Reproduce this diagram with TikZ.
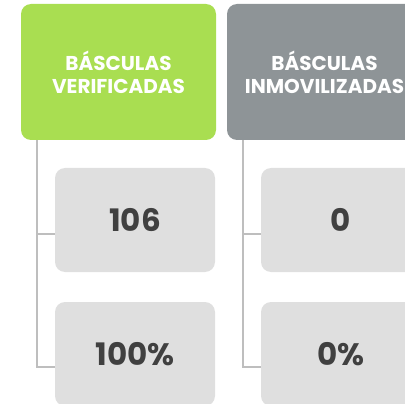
\documentclass[tikz,border=0pt]{standalone}
\usepackage{fontspec}
\setmainfont{Poppins}
\usepackage{tikz}
\usetikzlibrary{positioning, calc}

\definecolor{headgreen}{HTML}{A9DE51}
\definecolor{headgray}{HTML}{8E9497}
\definecolor{cellgray}{HTML}{DFDFDF}
\definecolor{treegray}{HTML}{BEBEBE}
\definecolor{numtext}{HTML}{404040}

\begin{document}
\begin{tikzpicture}[x=1pt, y=-1pt]
    % Define styles
    \tikzstyle{header} = [rectangle, rounded corners=10pt, minimum width=195pt, minimum height=136pt, inner sep=0pt, align=center, text=white, font=\fontsize{20}{23}\selectfont\bfseries]
    \tikzstyle{cell} = [rectangle, rounded corners=10pt, fill=cellgray, minimum width=160pt, minimum height=104pt, inner sep=0pt, text=numtext, font=\fontsize{31}{32}\selectfont\bfseries]
    \tikzstyle{tree} = [draw=treegray, line width=2.2pt]

    % Page frame
    \useasboundingbox (0,0) rectangle (405,404);
    \clip (0,0) rectangle (405,404);

    % Column headers
    \node[header, fill=headgreen] (verif) at (118.5,72) {BÁSCULAS\\VERIFICADAS};
    \node[header, fill=headgray] (inmov) at (324.5,72) {BÁSCULAS\\INMOVILIZADAS};

    % Value cells
    \node[cell] (verifcount) at (135,220) {106};
    \node[cell] (verifpct) at (135,354) {100\%};
    \node[cell] (inmovcount) at (341,220) {0};
    \node[cell] (inmovpct) at (341,354) {0\%};

    % Tree roots under the headers
    \coordinate (verifroot) at ([xshift=16pt]verif.south west);
    \coordinate (inmovroot) at ([xshift=16pt]inmov.south west);

    % Tree lines
    \draw[tree] (verifroot) |- ([yshift=-14pt]verifcount.west);
    \draw[tree] (verifroot) |- ([yshift=-13pt]verifpct.west);
    \draw[tree] (inmovroot) |- ([yshift=-14pt]inmovcount.west);
    \draw[tree] (inmovroot) |- ([yshift=-13pt]inmovpct.west);
\end{tikzpicture}
\end{document}
